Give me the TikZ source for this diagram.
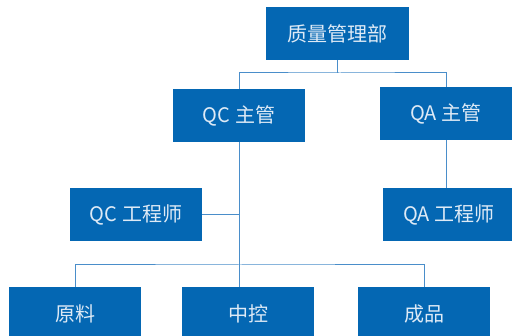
\documentclass[tikz,border=0pt]{standalone}
\usepackage{fontspec}
\newfontfamily\cjk{Noto Sans CJK SC}
\definecolor{boxblue}{RGB}{4,103,179}
\definecolor{lineblue}{RGB}{74,142,202}
\definecolor{textlight}{RGB}{222,234,246}
\tikzset{every picture/.style={line width=0.75pt}}
\tikzset{
  orgbox/.style={fill=boxblue,text=textlight,minimum width=132pt,minimum height=53pt,inner sep=0pt,font=\cjk\fontsize{20}{24}\selectfont},
  link/.style={draw=lineblue,line width=1pt}
}
\begin{document}
\begin{tikzpicture}[x=1pt,y=1pt,yscale=-1,xscale=1]
            \useasboundingbox (0,0) rectangle (512,336);

            % Boxes
            \node [orgbox,minimum width=143pt] (qmd) at (337.5,33.5) {质量管理部};
            \node [orgbox] (qcm) at (239,115.5) {QC 主管};
            \node [orgbox] (qam) at (446,113.5) {QA 主管};
            \node [orgbox] (qce) at (136,214.5) {QC 工程师};
            \node [orgbox] (qae) at (449,214.5) {QA 工程师};
            \node [orgbox] (yl) at (75,313.5) {原料};
            \node [orgbox] (zk) at (248,313.5) {中控};
            \node [orgbox] (cp) at (424,313.5) {成品};

            % Junctions
            \coordinate (j1) at (340,73);
            \coordinate (j2) at (240,265);

            % Links
            \draw [link] (qmd.south) -- (qmd.south |- j1);
            \draw [link] (qcm.north) |- (j1) -| (qam.north);
            \draw [link] (qcm.south) -- (qcm.south |- zk.north);
            \draw [link] (qce.east) -- (qce.east -| qcm.south);
            \draw [link] (qam.south) -- (qam.south |- qae.north);
            \draw [link] (yl.north) |- (j2) -| (cp.north);

\end{tikzpicture}
\end{document}
